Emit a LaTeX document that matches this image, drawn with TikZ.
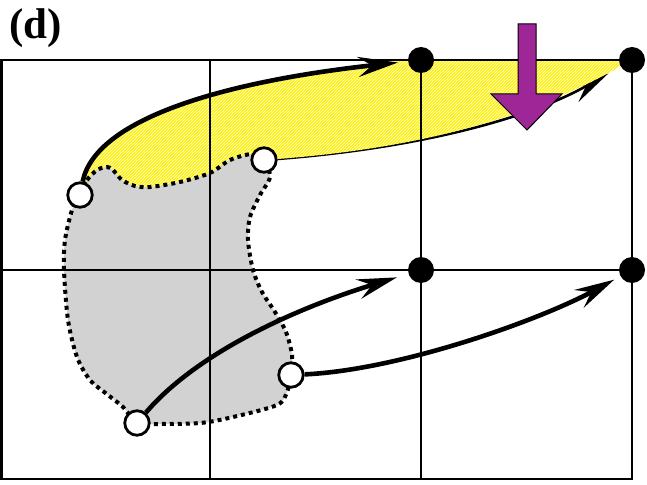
\documentclass[tikz,border=0pt]{standalone}
\usepackage{fontspec}
\setmainfont{Liberation Serif}
\usepackage{xcolor}
\usepackage{tikz}
\usetikzlibrary{arrows.meta,patterns,backgrounds}
\definecolor{dropviolet}{RGB}{158,38,150}

\begin{document}
\begin{tikzpicture}[x=1pt,y=-1pt,
  grd/.style={line width=2.7pt},
  bdot/.style={circle,fill=black,inner sep=0pt,minimum size=26pt},
  wdot/.style={circle,draw,line width=2.8pt,fill=white,inner sep=0pt,minimum size=24.5pt},
  arr/.style={-{Stealth[length=40pt,width=20pt,inset=14pt]},line width=#1},
  arr/.default=4.6pt,
  blob/.style={draw,line width=4pt,dash pattern=on 4pt off 4pt,fill=gray!35},
  hatch/.style={fill=yellow,postaction={pattern=north east lines,pattern color=white}}]
  \useasboundingbox (0,0) rectangle (647,484);
  \node[anchor=west,inner sep=0pt,font=\fontsize{43}{48}\selectfont\bfseries] (lbl) at (9,28) {(d)};
  \node[bdot] (b1) at (421,60) {};
  \node[bdot] (b2) at (632,60) {};
  \node[bdot] (b3) at (421,270) {};
  \node[bdot] (b4) at (632,270) {};
  \node[wdot] (w1) at (80,195) {};
  \node[wdot] (w2) at (264,160) {};
  \node[wdot] (w3) at (137,423) {};
  \node[wdot] (w4) at (291,375) {};
  \begin{scope}[on background layer]
    \draw[arr=2.6pt,shorten >=14pt] (w2) .. controls (420,148) and (530,118) .. (b2);
    \path[hatch] (80,185) .. controls (95,120) and (220,82) .. (393,61) -- (632,60) -- (621,66)
      .. controls (530,118) and (420,148) .. (277,159) -- (255,190) -- (100,195) -- cycle;
    \path[blob] plot[smooth cycle] coordinates {(80,193) (87,180) (97,170) (107,167) (113,170)
      (122,180) (135,186) (150,187) (180,182) (210,173) (230,160) (252,154) (264,160) (270,177)
      (260,195) (250,217) (248,240) (253,270) (262,292) (275,312) (286,332) (292,355) (291,375)
      (287,392) (277,405) (233,417) (200,423) (153,424) (137,423) (123,407) (108,395) (90,380)
      (77,357) (68,320) (64,270) (65,240) (72,210)};
    \draw[grd] (1.4,60) rectangle (632,479);
    \draw[grd] (210,60) -- (210,479) (421,60) -- (421,479) (1.4,270) -- (632,270);
    \draw[arr,shorten >=10pt] (w1) .. controls (95,120) and (220,82) .. (b1);
    \draw[arr,shorten >=12pt] (w3) .. controls (195,355) and (290,310) .. (b3);
    \draw[arr,shorten >=7pt] (w4) .. controls (400,370) and (540,320) .. (b4);
  \end{scope}
  \draw[fill=dropviolet,line width=1pt] (518,24) -- (536,24) -- (536,94) -- (562,94) -- (527,130)
    -- (491,94) -- (518,94) -- cycle;
\end{tikzpicture}
\end{document}
